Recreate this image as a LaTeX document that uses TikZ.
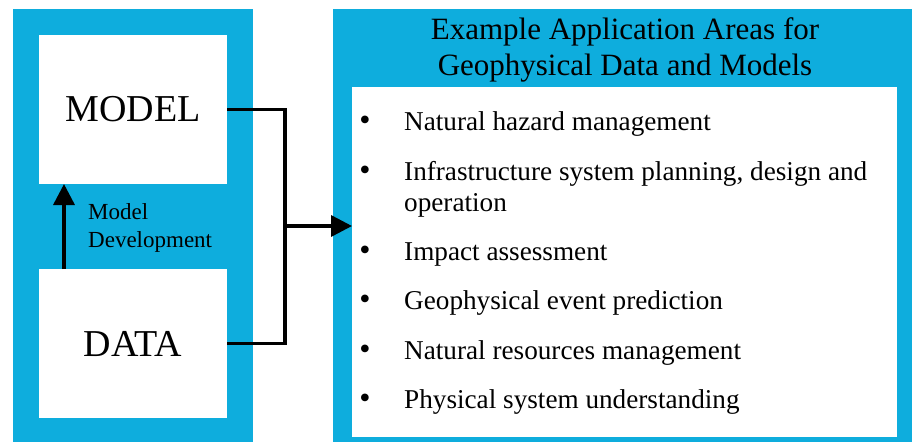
\documentclass[tikz,border=0pt]{standalone}
\usepackage{fontspec}
\setmainfont{Liberation Serif}
\usepackage{xcolor}
\usepackage{tikz}
\usetikzlibrary{calc,arrows.meta}
\definecolor{panelblue}{HTML}{0EADDD}
\definecolor{ink}{HTML}{000000}
\definecolor{paper}{HTML}{FFFFFF}
\tikzset{
  panel/.style={fill=panelblue, inner sep=0pt, outer sep=0pt, anchor=north west},
  card/.style={fill=paper, inner sep=0pt, outer sep=0pt, anchor=north west},
  conn/.style={draw=ink, line width=3.5pt, line join=miter},
  tip/.style={-{Triangle[length=21pt,width=21pt]}},
  big/.style={text=ink, font=\fontsize{38}{44}\selectfont},
  dev/.style={text=ink, font=\fontsize{23}{28}\selectfont, inner sep=0pt, anchor=base west},
  head/.style={text=ink, font=\fontsize{31}{36}\selectfont, inner sep=0pt, anchor=base},
  item/.style={text=ink, font=\fontsize{27.2}{31}\selectfont, inner sep=0pt, anchor=base west},
  dotmark/.style={text=ink, font=\fontsize{32}{36}\selectfont, inner sep=0pt, anchor=base},
}

\begin{document}
\begin{tikzpicture}[x=1pt,y=-1pt]
  \useasboundingbox (0,0) rectangle (912,442);
  % left side: data and model
  \node[panel, minimum width=240pt, minimum height=433pt] (left) at (13,9) {};
  \node[card, minimum width=188pt, minimum height=149pt, big] (model) at (39,35) {MODEL};
  \node[card, minimum width=188pt, minimum height=149pt, big] (data) at (39,269) {DATA};
  \draw[conn,tip] ([xshift=25pt]data.north west) -- ([xshift=25pt]model.south west);
  \node[dev] (devA) at (88,219) {Model};
  \node[dev] (devB) at (88,247) {Development};
  % right side: application areas
  \node[panel, minimum width=579pt, minimum height=433pt] (right) at (333,9) {};
  \node[card, minimum width=545pt, minimum height=350pt] (list) at (352,87) {};
  \node[head] (title1) at (625,39) {Example Application Areas for};
  \node[head] (title2) at (625,75) {Geophysical Data and Models};
  \foreach \n/\y/\txt in {1/130/Natural hazard management,
      2/180/{Infrastructure system planning, design and},
      3/260/Impact assessment,
      4/309/Geophysical event prediction,
      5/359/Natural resources management,
      6/408/Physical system understanding}{
    \node[dotmark] (dot\n) at (365,\y) {\textbullet};
    \node[item] (item\n) at (404,\y) {\txt};
  }
  \node[item] (item2b) at (404,211) {operation};
  % connectors
  \coordinate (join) at (285,226);
  \draw[conn] (model.east) -| (join) |- (data.east);
  \draw[conn,tip] (join) -- (join -| list.west);
\end{tikzpicture}
\end{document}
